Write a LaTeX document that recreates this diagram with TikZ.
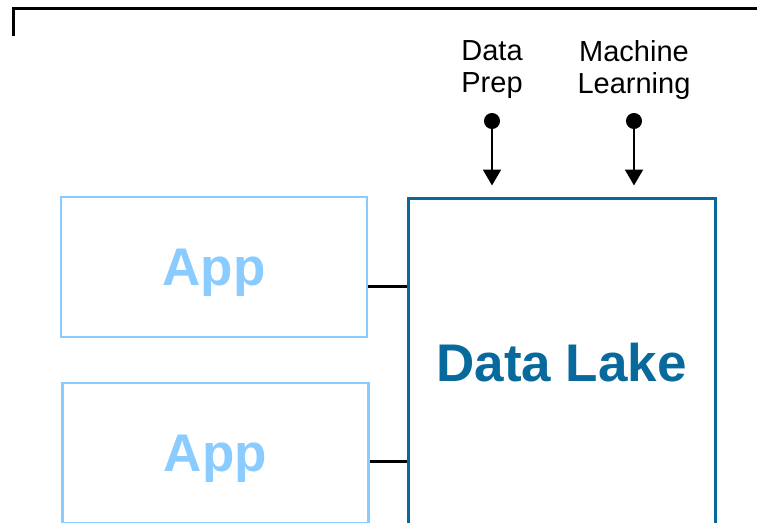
\documentclass[tikz,border=0pt]{standalone}
\usepackage{fontspec}
\setmainfont{Liberation Sans}
\usetikzlibrary{arrows.meta}
\definecolor{applight}{RGB}{138,204,255}
\definecolor{lakedark}{RGB}{8,106,156}
\begin{document}
\begin{tikzpicture}[x=1pt,y=-1pt]
          \tikzstyle{appbox}=[draw=applight,line width=2.5pt,minimum width=306pt,minimum height=140pt,text=applight,font=\fontsize{53}{56}\selectfont\bfseries,inner sep=0pt,text depth=0pt]
          \tikzstyle{lakebox}=[draw=lakedark,line width=3pt,minimum width=307pt,minimum height=328pt,text=lakedark,font=\fontsize{53}{56}\selectfont\bfseries,inner sep=0pt,text depth=0pt]
          \tikzstyle{tool}=[align=center,font=\fontsize{29}{32}\selectfont]
          \tikzstyle{feed}=[line width=2pt,{Circle[length=16pt,width=16pt]}-{Triangle[width=18pt,length=16pt]},shorten >=11pt]
          \tikzstyle{link}=[line width=3pt]
          \useasboundingbox (0,0) rectangle (757,522);
          \clip (0,0) rectangle (757,522);
          \draw[line width=3pt] (13,36) -- (13,8) -- (757,8);
          \node[appbox] (app1) at (214,267) {App};
          \node[appbox] (app2) at (215.5,453) {App};
          \node[lakebox] (lake) at (561.5,362) {Data Lake};
          \node[tool] (prep) at (492,70) {Data\\Prep};
          \node[tool] (ml) at (634,70) {Machine\\Learning};
          \coordinate (prepdot) at (492,113);
          \coordinate (mldot) at (634,113);
          \draw[feed] (prepdot) -- (prepdot |- lake.north);
          \draw[feed] (mldot) -- (mldot |- lake.north);
          \draw[link] ([yshift=-19pt]app1.east) -- ([yshift=-19pt]app1.east -| lake.west);
          \draw[link] ([yshift=-8pt]app2.east) -- ([yshift=-8pt]app2.east -| lake.west);
      \end{tikzpicture}
\end{document}
